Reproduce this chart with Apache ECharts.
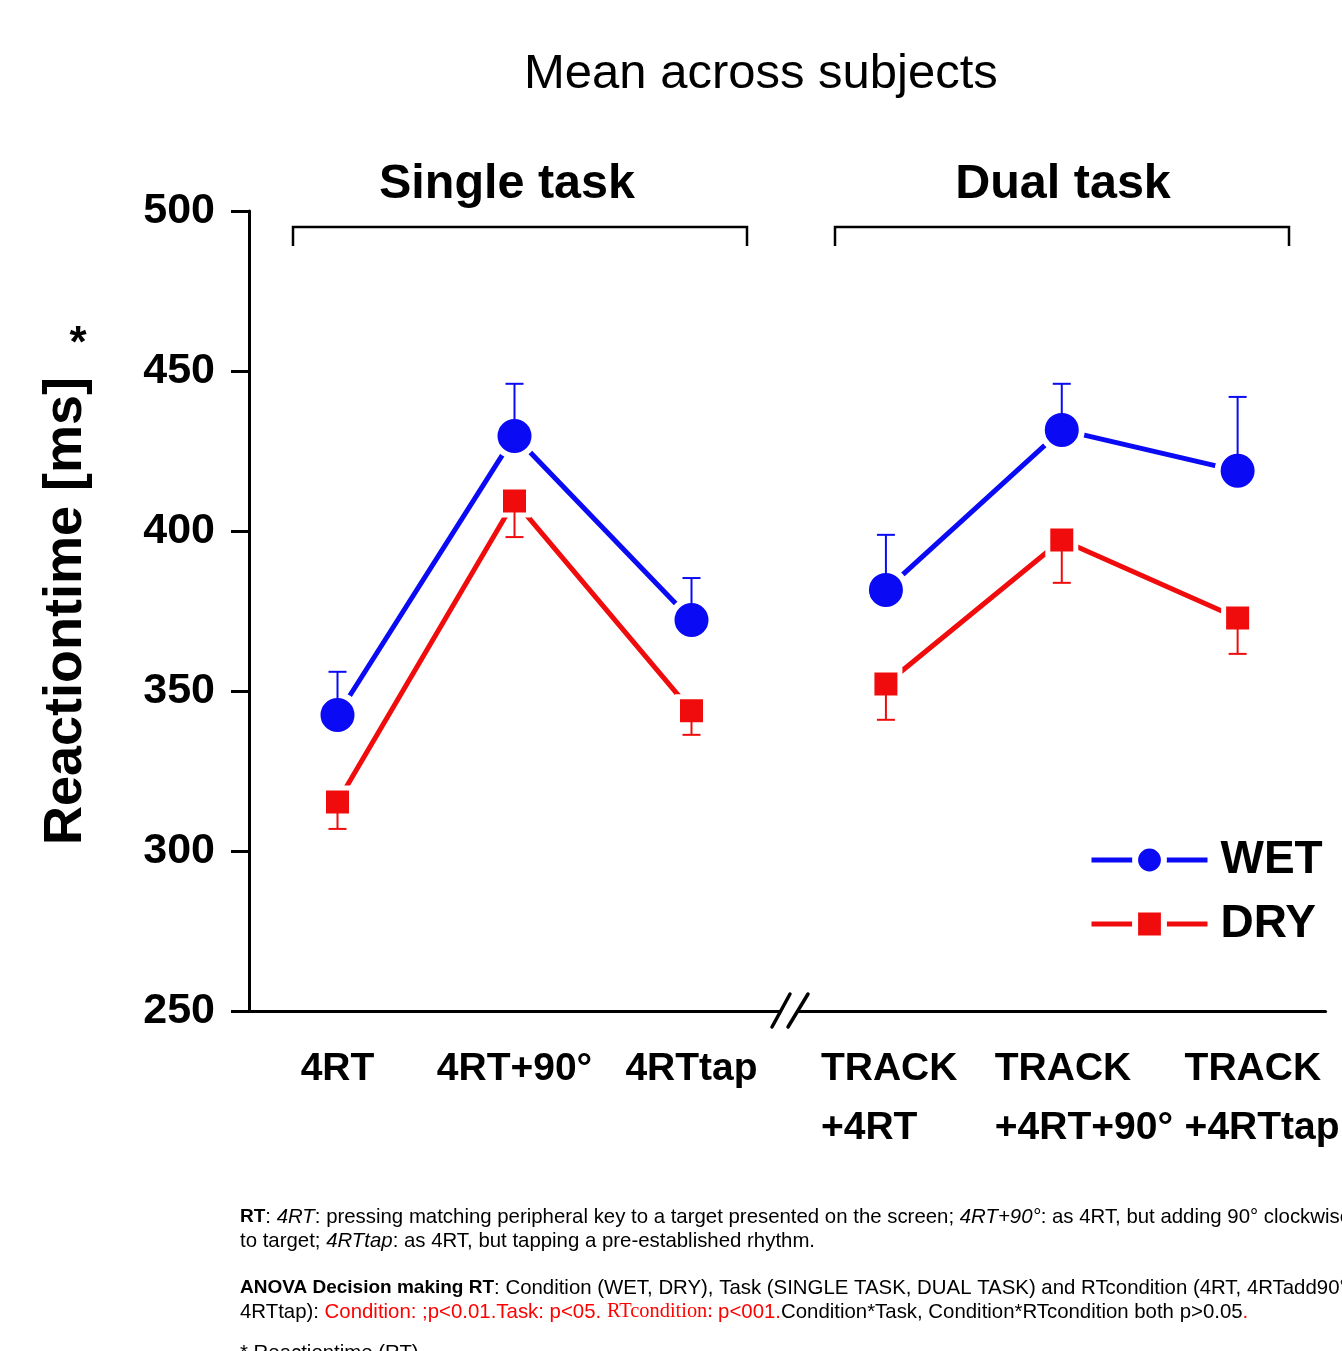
<!DOCTYPE html>
<html><head><meta charset="utf-8">
<script src="https://cdn.jsdelivr.net/npm/echarts@6/dist/echarts.min.js"></script>
<style>html,body{margin:0;padding:0;background:#fff}#c{width:1342px;height:1351px}</style>
</head><body><div id="c"></div>
<script>
const singleCats = ['4RT', '4RT+90°', '4RTtap'];
const dualCats = ['TRACK\n+4RT', 'TRACK\n+4RT+90°', 'TRACK\n+4RTtap'];
const yMin = 250, yMax = 500, yStep = 50;
const wetSingle = [342.5, 429.7, 372.2];
const wetSingleErrTop = [356, 446, 385.3];
const wetDual = [381.6, 431.6, 418.8];
const wetDualErrTop = [398.8, 446, 441.9];
const drySingle = [315.3, 409.4, 343.8];
const drySingleErrBottom = [306.9, 398.1, 336.3];
const dryDual = [352.2, 397.2, 372.8];
const dryDualErrBottom = [341, 383.8, 361.6];

const BLUE = '#0a0af5', RED = '#f00c0c';
const FF = "'Liberation Sans', Arial, Helvetica, sans-serif";
const NOTE = 20.4, NOTEB = 19;

function errData(means, ends) { return means.map((m, i) => [i, m, ends[i]]); }
function errRender(color) {
  return function (params, api) {
    const i = api.value(0);
    const p1 = api.coord([i, api.value(1)]);
    const p2 = api.coord([i, api.value(2)]);
    return {
      type: 'group', children: [
        { type: 'line', shape: { x1: p1[0], y1: p1[1], x2: p2[0], y2: p2[1] }, style: { stroke: color, lineWidth: 2 } },
        { type: 'line', shape: { x1: p2[0] - 9, y1: p2[1], x2: p2[0] + 9, y2: p2[1] }, style: { stroke: color, lineWidth: 2 } }
      ]
    };
  };
}
function lineSeries(name, data, idx, color, symbol, size, bw) {
  return {
    name: name, type: 'line', xAxisIndex: idx, yAxisIndex: idx, data: data,
    symbol: symbol, symbolSize: size, showSymbol: true,
    lineStyle: { color: color, width: 5 },
    itemStyle: { color: color, borderColor: '#fff', borderWidth: bw, opacity: 1 },
    emphasis: { disabled: true }, z: 2, clip: false
  };
}
function errSeries(name, means, ends, idx, color) {
  return {
    name: name, type: 'custom', xAxisIndex: idx, yAxisIndex: idx,
    data: errData(means, ends), renderItem: errRender(color), z: 5, silent: true,
    encode: { x: 0, y: [1, 2] }
  };
}

const axisLbl = { color: '#000', fontFamily: FF, fontWeight: 'bold', fontSize: 39 };
const dualWidths = [130, 134, 106];

const chart = echarts.init(document.getElementById('c'));
chart.setOption({
  animation: false,
  backgroundColor: '#fff',
  title: {
    text: 'Mean across subjects', left: 524, top: 46, padding: 0,
    textStyle: { fontFamily: FF, fontWeight: 'normal', fontSize: 49, color: '#000', lineHeight: 56 }
  },
  legend: {
    orient: 'vertical', left: 1089, top: 837, padding: 0, itemWidth: 116, itemHeight: 36, itemGap: 18,
    data: ['WET', 'DRY'],
    itemStyle: { borderColor: '#fff', borderWidth: 6 },
    lineStyle: { width: 5 },
    textStyle: { fontFamily: FF, fontWeight: 'bold', fontSize: 46, color: '#000', lineHeight: 44, padding: [0, 0, 0, 8] }
  },
  grid: [
    { left: 249, width: 531, top: 211, bottom: 340 },
    { left: 798, width: 531, top: 211, bottom: 340 }
  ],
  xAxis: [
    {
      type: 'category', gridIndex: 0, data: singleCats, boundaryGap: true,
      axisLine: { lineStyle: { color: '#000', width: 3 } },
      axisTick: { alignWithLabel: true, length: 16, lineStyle: { color: '#000', width: 3 } },
      axisLabel: Object.assign({ interval: 0, margin: 29, lineHeight: 59 }, axisLbl),
      splitLine: { show: false }
    },
    {
      type: 'category', gridIndex: 1, data: dualCats, boundaryGap: true,
      axisLine: { lineStyle: { color: '#000', width: 3 } },
      axisTick: { alignWithLabel: true, length: 16, lineStyle: { color: '#000', width: 3 } },
      axisLabel: Object.assign({
        interval: 0, margin: 29, lineHeight: 59,
        formatter: function (v, i) {
          return v.split('\n').map(s => '{a' + i + '|' + s + '}').join('\n');
        },
        rich: {
          a0: Object.assign({ width: dualWidths[0], align: 'left', lineHeight: 59 }, axisLbl),
          a1: Object.assign({ width: dualWidths[1], align: 'left', lineHeight: 59 }, axisLbl),
          a2: Object.assign({ width: dualWidths[2], align: 'left', lineHeight: 59 }, axisLbl)
        }
      }, axisLbl),
      splitLine: { show: false }
    }
  ],
  yAxis: [
    {
      type: 'value', gridIndex: 0, min: yMin, max: yMax, interval: yStep,
      name: 'Reactiontime [ms]', nameLocation: 'middle', nameGap: 156, nameRotate: 90,
      nameTextStyle: { fontFamily: FF, fontWeight: 'bold', fontSize: 54, color: '#000' },
      axisLine: { show: true, lineStyle: { color: '#000', width: 3 } },
      axisTick: { show: true, length: 18, lineStyle: { color: '#000', width: 3 } },
      axisLabel: { color: '#000', fontFamily: FF, fontWeight: 'bold', fontSize: 43, margin: 34 },
      splitLine: { show: false }
    },
    {
      type: 'value', gridIndex: 1, min: yMin, max: yMax, interval: yStep, show: false,
      splitLine: { show: false }
    }
  ],
  series: [
    lineSeries('WET', wetSingle, 0, BLUE, 'circle', 40, 6),
    lineSeries('WET', wetDual, 1, BLUE, 'circle', 40, 6),
    lineSeries('DRY', drySingle, 0, RED, 'rect', 28, 5),
    lineSeries('DRY', dryDual, 1, RED, 'rect', 28, 5),
    errSeries('WET', wetSingle, wetSingleErrTop, 0, BLUE),
    errSeries('WET', wetDual, wetDualErrTop, 1, BLUE),
    errSeries('DRY', drySingle, drySingleErrBottom, 0, RED),
    errSeries('DRY', dryDual, dryDualErrBottom, 1, RED)
  ],
  graphic: [
    { type: 'text', x: 507, y: 185, style: { text: 'Single task', fontFamily: FF, fontWeight: 'bold', fontSize: 48.5, fill: '#000', align: 'center', verticalAlign: 'middle' } },
    { type: 'text', x: 1063, y: 185, style: { text: 'Dual task', fontFamily: FF, fontWeight: 'bold', fontSize: 48.5, fill: '#000', align: 'center', verticalAlign: 'middle' } },
    { type: 'polyline', shape: { points: [[293, 246], [293, 227], [747, 227], [747, 246]] }, style: { stroke: '#000', lineWidth: 2.5, fill: null } },
    { type: 'polyline', shape: { points: [[835, 246], [835, 227], [1289, 227], [1289, 246]] }, style: { stroke: '#000', lineWidth: 2.5, fill: null } },
    { type: 'line', shape: { x1: 772, y1: 1027, x2: 790, y2: 994 }, style: { stroke: '#000', lineWidth: 3.5, lineCap: 'round' } },
    { type: 'line', shape: { x1: 788, y1: 1027, x2: 808, y2: 994 }, style: { stroke: '#000', lineWidth: 3.5, lineCap: 'round' } },
    { type: 'text', x: 78, y: 345, style: { text: '*', fontFamily: FF, fontWeight: 'bold', fontSize: 44, fill: '#000', align: 'center', verticalAlign: 'middle' } },
    {
      type: 'text', x: 240, y: 1217, style: {
        text: '{b|RT}: {i|4RT}: pressing matching peripheral key to a target presented on the screen; {i|4RT+90°}: as 4RT, but adding 90° clockwise rotation',
        fontFamily: FF, fontSize: NOTE, fill: '#000', verticalAlign: 'middle',
        rich: { b: { fontFamily: FF, fontSize: NOTEB, fontWeight: 'bold', fill: '#000' }, i: { fontFamily: FF, fontSize: NOTE, fontStyle: 'italic', fill: '#000' } }
      }
    },
    {
      type: 'text', x: 240, y: 1241, style: {
        text: 'to target; {i|4RTtap}: as 4RT, but tapping a pre-established rhythm.',
        fontFamily: FF, fontSize: NOTE, fill: '#000', verticalAlign: 'middle',
        rich: { i: { fontFamily: FF, fontSize: NOTE, fontStyle: 'italic', fill: '#000' } }
      }
    },
    {
      type: 'text', x: 240, y: 1288, style: {
        text: '{b|ANOVA Decision making RT}: Condition (WET, DRY), Task (SINGLE TASK, DUAL TASK) and RTcondition (4RT, 4RTadd90°,',
        fontFamily: FF, fontSize: NOTE, fill: '#000', verticalAlign: 'middle',
        rich: { b: { fontFamily: FF, fontSize: NOTEB, fontWeight: 'bold', fill: '#000' } }
      }
    },
    {
      type: 'text', x: 240, y: 1312, style: {
        text: '4RTtap): {r|Condition: ;p<0.01.Task: p<05. }{s|RTcondition: }{r|p<001.}Condition*Task, Condition*RTcondition both p>0.05{r|.}',
        fontFamily: FF, fontSize: NOTE, fill: '#000', verticalAlign: 'middle',
        rich: {
          r: { fontFamily: FF, fontSize: NOTE, fill: '#ff0000' },
          s: { fontFamily: "'Liberation Serif', 'Times New Roman', serif", fontSize: NOTE, fill: '#ff0000' }
        }
      }
    },
    {
      type: 'text', x: 240, y: 1353, style: {
        text: '* Reactiontime (RT)',
        fontFamily: FF, fontSize: NOTE, fill: '#000', verticalAlign: 'middle'
      }
    }
  ]
});
</script>
</body></html>
